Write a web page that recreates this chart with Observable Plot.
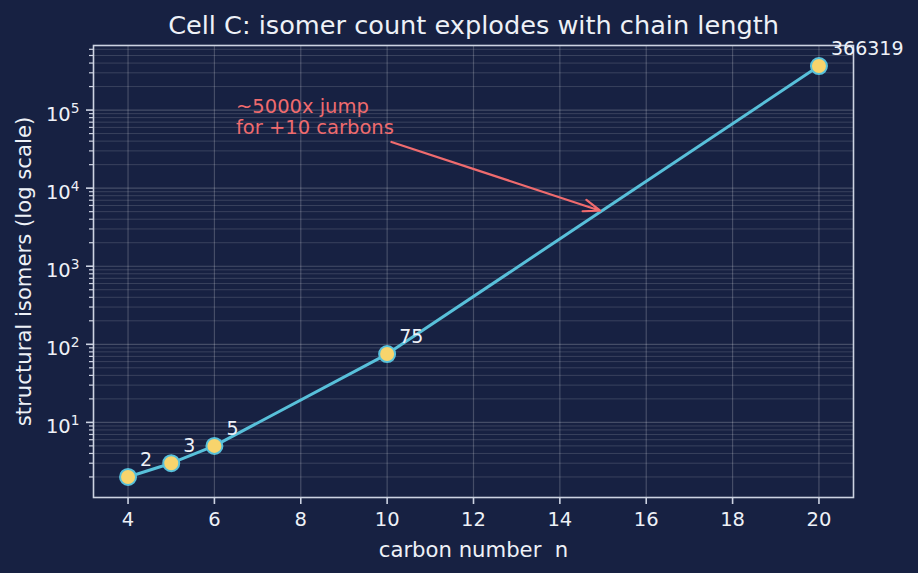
<!DOCTYPE html>
<html>
<head>
<meta charset="utf-8">
<script src="https://cdn.jsdelivr.net/npm/d3@7"></script>
<script src="https://cdn.jsdelivr.net/npm/@observablehq/plot@0.6"></script>
<style>
  html, body { margin: 0; padding: 0; background: #172142; }
  #chart svg { display: block; }
</style>
</head>
<body>
<div id="chart"></div>
<script>
// Structural isomers of alkanes CnH2n+2
const carbonNumbers = [4, 5, 6, 10, 20];
const isomerCounts = [2, 3, 5, 75, 366319];
const pointLabels = ["2", "3", "5", "75", "366319"];

const xTickValues = [4, 6, 8, 10, 12, 14, 16, 18, 20];
const yTickValues = [1e1, 1e2, 1e3, 1e4, 1e5];

const titleText = "Cell C: isomer count explodes with chain length";
const xLabelText = "carbon number  n";
const yLabelText = "structural isomers (log scale)";

// Callout: text anchor, arrow tail and arrow head (data coordinates)
const noteText = ["~5000x jump\nfor +10 carbons"];
const noteTextAt = [6.5, 5e4];
const noteArrowFrom = [10.1, 3.9e4];
const noteArrowTo = [15, 5000];

const BG = "#172142";
const FG = "#eef1f7";
const SPINE = "#cdd3e2";
const LINE = "#58c0da";
const MARKER = "#f8d46c";
const NOTE = "#ef6b6e";

const points = carbonNumbers.map((n, i) => ({n, count: isomerCounts[i], label: pointLabels[i]}));

// 5% padding on each side, as a linear range in x and a log range in y
const [xMin, xMax] = d3.extent(carbonNumbers);
const xPad = (xMax - xMin) * 0.05;
const [lyMin, lyMax] = d3.extent(isomerCounts, Math.log10);
const lyPad = (lyMax - lyMin) * 0.05;
const yDomain = [10 ** (lyMin - lyPad), 10 ** (lyMax + lyPad)];

// minor log ticks (2..9 × 10^k) inside the y domain
const yMinorTicks = [];
for (let k = 0; k <= 6; k++) {
  for (let m = 2; m <= 9; m++) {
    const v = m * 10 ** k;
    if (v >= yDomain[0] && v <= yDomain[1]) yMinorTicks.push(v);
  }
}

const chart = Plot.plot({
  width: 918,
  height: 573,
  marginLeft: 93,
  marginRight: 65,
  marginTop: 45,
  marginBottom: 76,
  style: {background: BG, color: FG, fontFamily: "'DejaVu Sans', sans-serif", fontSize: "19.5px"},
  x: {domain: [xMin - xPad, xMax + xPad]},
  y: {type: "log", domain: yDomain},
  marks: [
    Plot.gridX(xTickValues, {stroke: "#ffffff", strokeOpacity: 0.2, strokeWidth: 1.2}),
    Plot.gridY(yTickValues, {stroke: "#ffffff", strokeOpacity: 0.2, strokeWidth: 1.2}),
    Plot.gridY(yMinorTicks, {stroke: "#ffffff", strokeOpacity: 0.15, strokeWidth: 1}),
    Plot.frame({stroke: SPINE, strokeWidth: 1.6}),
    Plot.axisX(xTickValues, {
      tickSize: 7, tickPadding: 8, stroke: SPINE, strokeWidth: 1.6,
      fontSize: 19.5, label: null, tickFormat: d => String(d)
    }),
    Plot.axisY(yTickValues, {
      tickSize: 7, tickPadding: 7, stroke: SPINE, strokeWidth: 1.6,
      fontSize: 19.5, label: null, tickFormat: d => `10^${Math.round(Math.log10(d))}`
    }),
    Plot.axisY(yMinorTicks, {
      tickSize: 4, stroke: SPINE, strokeWidth: 1.2, label: null, tickFormat: () => ""
    }),
    Plot.line(points, {x: "n", y: "count", stroke: LINE, strokeWidth: 3}),
    Plot.dot(points, {x: "n", y: "count", r: 8, fill: MARKER, stroke: LINE, strokeWidth: 2}),
    Plot.text(points, {
      x: "n", y: "count", text: "label", textAnchor: "start", lineAnchor: "bottom",
      dx: 12, dy: -11, fill: FG, fontSize: 19
    }),
    Plot.arrow([0], {
      x1: () => noteArrowFrom[0], y1: () => noteArrowFrom[1],
      x2: () => noteArrowTo[0], y2: () => noteArrowTo[1],
      stroke: NOTE, strokeWidth: 2.2, headLength: 12, headAngle: 40, insetEnd: 3
    }),
    Plot.text(noteText, {
      x: () => noteTextAt[0], y: () => noteTextAt[1], text: d => d,
      textAnchor: "start", lineAnchor: "bottom", lineHeight: 1.08,
      fill: NOTE, fontSize: 19.5
    }),
    Plot.text([titleText], {
      frameAnchor: "top", text: d => d, dy: -20, lineAnchor: "middle", textAnchor: "middle",
      fill: FG, fontSize: 25.6
    }),
    Plot.text([xLabelText], {
      frameAnchor: "bottom", text: d => d, dy: 53, lineAnchor: "middle", textAnchor: "middle",
      fill: FG, fontSize: 21.2
    }),
    Plot.text([yLabelText], {
      frameAnchor: "left", text: d => d, dx: -69, rotate: -90,
      lineAnchor: "middle", textAnchor: "middle",
      fill: FG, fontSize: 21.2
    })
  ]
});

// typeset "10^k" tick labels as 10 with a raised exponent
d3.select(chart).selectAll("text").each(function () {
  const t = this.textContent;
  const m = /^10\^(-?\d+)$/.exec(t);
  if (!m) return;
  const sel = d3.select(this);
  sel.text(null);
  sel.append("tspan").attr("dy", "4.5").text("10");
  sel.append("tspan").attr("dy", "-8").attr("font-size", "13.7px").text(m[1]);
});

document.getElementById("chart").append(chart);
</script>
</body>
</html>
